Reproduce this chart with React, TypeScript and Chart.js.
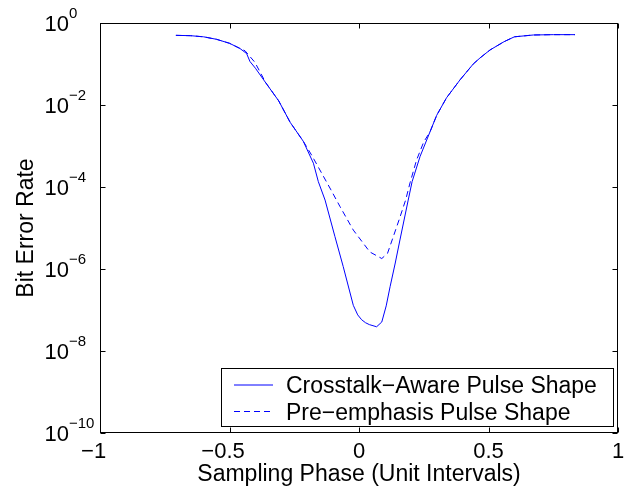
import React, { useEffect, useRef } from "react";
import { Chart, registerables } from "chart.js";

Chart.register(...registerables);

// Crosstalk-Aware Pulse Shape (solid)
const solidPhase = [
  -0.707, -0.65, -0.6, -0.55, -0.5, -0.46, -0.434, -0.421, -0.4, -0.356, -0.31, -0.266, -0.215,
  -0.176, -0.157, -0.131, -0.093, -0.061, -0.022, -0.005, 0.01, 0.025, 0.04, 0.068, 0.088, 0.105,
  0.12, 0.14, 0.158, 0.19, 0.205, 0.236, 0.274, 0.3, 0.338, 0.39, 0.441, 0.467, 0.506, 0.56,
  0.583, 0.6, 0.673, 0.75, 0.834,
];
const solidBer = [
  5.0e-1, 4.9e-1, 4.6e-1, 4.0e-1, 3.2e-1, 2.4e-1, 1.8e-1, 1.15e-1, 7.9e-2, 3.2e-2, 1.26e-2,
  3.8e-3, 1.3e-3, 3.8e-4, 1.35e-4, 4.8e-5, 6.2e-6, 1.15e-6, 1.3e-7, 7.6e-8, 5.8e-8, 4.9e-8,
  4.4e-8, 3.9e-8, 5.1e-8, 1.26e-7, 3.7e-7, 1.4e-6, 5.1e-6, 4.8e-5, 1.35e-4, 5.6e-4, 2.2e-3,
  5.6e-3, 1.5e-2, 4.1e-2, 1.0e-1, 1.4e-1, 2.2e-1, 3.5e-1, 4.1e-1, 4.6e-1, 5.1e-1, 5.2e-1, 5.2e-1,
];

// Pre-emphasis Pulse Shape (dashed)
const dashPhase = [
  -0.707, -0.65, -0.6, -0.55, -0.5, -0.46, -0.44, -0.402, -0.36, -0.31, -0.266, -0.215, -0.183,
  -0.151, -0.11, -0.073, -0.022, 0.042, 0.088, 0.11, 0.128, 0.155, 0.18, 0.197, 0.222, 0.25,
  0.274, 0.3, 0.338, 0.39, 0.441, 0.467, 0.506, 0.56, 0.6, 0.673, 0.75, 0.834,
];
const dashBer = [
  5.0e-1, 4.9e-1, 4.6e-1, 4.0e-1, 3.2e-1, 2.4e-1, 2.1e-1, 1.1e-1, 3.5e-2, 1.26e-2, 3.8e-3,
  1.3e-3, 6.0e-4, 2.6e-4, 8.9e-5, 3.3e-5, 8.9e-6, 2.6e-6, 1.8e-6, 2.4e-6, 5.1e-6, 1.6e-5,
  4.8e-5, 1.26e-4, 4.5e-4, 1.26e-3, 2.2e-3, 5.6e-3, 1.5e-2, 4.1e-2, 1.0e-1, 1.4e-1, 2.2e-1,
  3.5e-1, 4.6e-1, 5.1e-1, 5.2e-1, 5.2e-1,
];

const seriesNames = ["Crosstalk\u2212Aware Pulse Shape", "Pre\u2212emphasis Pulse Shape"];
const xTickValues = [-1, -0.5, 0, 0.5, 1];
const yTickExponents = [0, -2, -4, -6, -8, -10];
const xAxisTitle = "Sampling Phase (Unit Intervals)";
const yAxisTitle = "Bit Error Rate";

const FONT = "'Liberation Sans', Arial, Helvetica, sans-serif";
const LINE_COLOR = "#0000ff";

const matlabAxes = {
  id: "matlabAxes",
  afterDraw(chart: any) {
    const { ctx, chartArea } = chart;
    const xs = chart.scales.x;
    const ys = chart.scales.y;
    const L = Math.round(chartArea.left) + 0.5;
    const R = Math.round(chartArea.right) - 0.5;
    const T = Math.round(chartArea.top) + 0.5;
    const B = Math.round(chartArea.bottom) - 0.5;
    const tl = 5;
    ctx.save();
    ctx.strokeStyle = "#000";
    ctx.lineWidth = 1;
    ctx.setLineDash([]);
    ctx.strokeRect(L, T, R - L, B - T);
    ctx.beginPath();
    xTickValues.forEach((v) => {
      const px = Math.round(xs.getPixelForValue(v)) + 0.5;
      ctx.moveTo(px, B);
      ctx.lineTo(px, B - tl);
      ctx.moveTo(px, T);
      ctx.lineTo(px, T + tl);
    });
    yTickExponents.forEach((e) => {
      const py = Math.round(ys.getPixelForValue(Math.pow(10, e))) + 0.5;
      ctx.moveTo(L, py);
      ctx.lineTo(L + tl, py);
      ctx.moveTo(R, py);
      ctx.lineTo(R - tl, py);
    });
    ctx.stroke();

    ctx.fillStyle = "#000";
    // x tick labels
    ctx.font = `22px ${FONT}`;
    ctx.textBaseline = "alphabetic";
    xTickValues.forEach((v) => {
      const px = xs.getPixelForValue(v);
      const num = String(Math.abs(v));
      const w = ctx.measureText(num).width;
      ctx.textAlign = "left";
      ctx.fillText(num, px - w / 2, 458);
      if (v < 0) {
        ctx.textAlign = "right";
        ctx.fillText("\u2212", px - w / 2, 458);
      }
    });
    // y tick labels 10^n
    yTickExponents.forEach((e) => {
      const py = ys.getPixelForValue(Math.pow(10, e));
      ctx.font = `22px ${FONT}`;
      ctx.textAlign = "right";
      ctx.fillText("10", 69, py + 8);
      ctx.font = `15px ${FONT}`;
      ctx.textAlign = "left";
      ctx.fillText(e < 0 ? "\u2212" + String(-e) : String(e), 69, py - 5);
    });
    // axis titles
    ctx.font = `23px ${FONT}`;
    ctx.textAlign = "center";
    ctx.fillText(xAxisTitle, (chartArea.left + chartArea.right) / 2, 481);
    ctx.save();
    ctx.translate(33, (chartArea.top + chartArea.bottom) / 2);
    ctx.rotate(-Math.PI / 2);
    ctx.fillText(yAxisTitle, 0, 0);
    ctx.restore();

    // legend
    const lx = 221.5, ly = 368.5, lw = 392, lh = 58;
    ctx.fillStyle = "#fff";
    ctx.fillRect(lx, ly, lw, lh);
    ctx.strokeStyle = "#000";
    ctx.strokeRect(lx, ly, lw, lh);
    const rows = [385, 411.5];
    chart.data.datasets.forEach((ds: any, i: number) => {
      ctx.strokeStyle = ds.borderColor;
      ctx.lineWidth = 1;
      ctx.setLineDash(ds.borderDash || []);
      ctx.beginPath();
      ctx.moveTo(234, rows[i]);
      ctx.lineTo(273, rows[i]);
      ctx.stroke();
      ctx.setLineDash([]);
      ctx.fillStyle = "#000";
      ctx.font = `23px ${FONT}`;
      ctx.textAlign = "left";
      ctx.fillText(ds.label, 286, rows[i] + 8);
    });
    ctx.restore();
  },
};

export default function App() {
  const ref = useRef<HTMLCanvasElement | null>(null);
  useEffect(() => {
    if (!ref.current) return;
    const chart = new Chart(ref.current, {
      type: "line",
      data: {
        datasets: [
          {
            label: seriesNames[0],
            data: solidPhase.map((x, i) => ({ x, y: solidBer[i] })),
            borderColor: LINE_COLOR,
            borderWidth: 1,
            pointRadius: 0,
            tension: 0,
            fill: false,
          },
          {
            label: seriesNames[1],
            data: dashPhase.map((x, i) => ({ x, y: dashBer[i] })),
            borderColor: LINE_COLOR,
            borderWidth: 1,
            borderDash: [6, 4],
            pointRadius: 0,
            tension: 0,
            fill: false,
          },
        ],
      },
      options: {
        animation: false,
        responsive: false,
        devicePixelRatio: 1,
        layout: { padding: { left: 100, top: 23, right: 8, bottom: 53 } },
        plugins: { legend: { display: false }, tooltip: { enabled: false } },
        scales: {
          x: { type: "linear", min: -1, max: 1, display: false },
          y: { type: "logarithmic", min: 1e-10, max: 1, display: false },
        },
      },
      plugins: [matlabAxes],
    });
    return () => chart.destroy();
  }, []);
  return (
    <div style={{ position: "fixed", left: 0, top: 0, width: 626, height: 486, background: "#fff" }}>
      <canvas ref={ref} width={626} height={486} style={{ display: "block" }} />
    </div>
  );
}
